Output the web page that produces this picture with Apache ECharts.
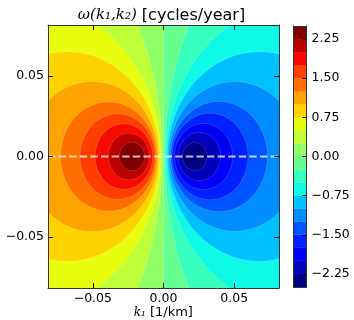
<!DOCTYPE html>
<html><head><meta charset="utf-8">
<script src="https://cdn.jsdelivr.net/npm/echarts@6/dist/echarts.min.js"></script>
<style>html,body{margin:0;padding:0;background:#fff}#c{width:354px;height:320px}</style>
</head><body><div id="c"></div>
<script>
// ---- data ----
const contourLevels = [-2.5,-2.25,-2.0,-1.75,-1.5,-1.25,-1.0,-0.75,-0.5,-0.25,0,0.25,0.5,0.75,1.0,1.25,1.5,1.75,2.0,2.25,2.5];
// positive-omega contours: edges of each closed contour along k2 = 0 (k1 in 1/km)
const posLevels = [0.25,0.5,0.75,1.0,1.25,1.5,1.75,2.0,2.25];
const posLeft   = [-0.41,-0.195,-0.133,-0.097,-0.0728,-0.0590,-0.0484,-0.0390,-0.0311];
const posRight  = [-0.0009,-0.0018,-0.0028,-0.0039,-0.0050,-0.0060,-0.0078,-0.0101,-0.0134];
// negative-omega contours
const negLevels = [-0.25,-0.5,-0.75,-1.0,-1.25,-1.5,-1.75,-2.0,-2.25];
const negLeft   = [0.0009,0.0018,0.0028,0.0039,0.0050,0.0060,0.0078,0.0103,0.0134];
const negRight  = [0.41,0.195,0.133,0.097,0.0735,0.0598,0.0488,0.0403,0.0308];
const zeroContour = 0;
const kRange = [-0.0817, 0.0817];
const xTicks = [-0.05, 0, 0.05];
const yTicks = [-0.05, 0, 0.05];
const cbTicks = [-2.25,-1.5,-0.75,0,0.75,1.5,2.25];
const dashLineK2 = 0;

// ---- jet colormap (matplotlib) ----
function interp(pts, t){
  for (let i=1;i<pts.length;i++){
    if (t <= pts[i][0]) { const a=pts[i-1], b=pts[i]; return a[1] + (b[1]-a[1])*(t-a[0])/(b[0]-a[0]); }
  }
  return pts[pts.length-1][1];
}
function jet(t){
  const idx = Math.min(255, Math.floor(t*256));
  const u = idx/255;
  const r = interp([[0,0],[0.35,0],[0.66,1],[0.89,1],[1,0.5]], u);
  const g = interp([[0,0],[0.125,0],[0.375,1],[0.64,1],[0.91,0],[1,0]], u);
  const b = interp([[0,0.5],[0.11,1],[0.34,1],[0.65,0],[1,0]], u);
  return 'rgb(' + Math.round(r*255) + ',' + Math.round(g*255) + ',' + Math.round(b*255) + ')';
}
const nBands = contourLevels.length - 1;
const bandColors = [];
for (let i=0;i<nBands;i++) bandColors.push(jet(i/(nBands-1)));
function bandIndex(lo){ return contourLevels.indexOf(lo); }

// items: [kind, left, right, bandIndex]
const fieldData = [];
fieldData.push([0, kRange[0], zeroContour, bandIndex(0)]);
fieldData.push([0, zeroContour, kRange[1], bandIndex(-0.25)]);
posLevels.forEach((lv,i)=>fieldData.push([1, posLeft[i], posRight[i], bandIndex(lv)]));
negLevels.forEach((lv,i)=>fieldData.push([1, negLeft[i], negRight[i], bandIndex(lv - 0.25)]));

const cbData = [];
for (let i=0;i<nBands;i++) cbData.push([contourLevels[i], contourLevels[i+1], i]);

function fmt(v){ const s = v.toFixed(2); return s.replace('-', '\u2212'); }

const FONT = 'DejaVu Sans';
const frame = '#333';
function axisCommon(extra){
  return Object.assign({
    type:'value', z:10,
    axisLine:{show:true, onZero:false, lineStyle:{color:frame, width:1}},
    splitLine:{show:false},
    axisTick:{show:true, inside:true, length:5, lineStyle:{color:'#000', width:1}},
    axisLabel:{show:false}
  }, extra);
}
const tickLabel = {show:true, color:'#000', fontFamily:FONT, fontSize:12.5, formatter:fmt};

const chart = echarts.init(document.getElementById('c'), null, {renderer:'canvas'});
chart.setOption({
  animation:false,
  grid:[
    {left:48, top:25, width:231, height:263},
    {left:293.5, top:26, width:13, height:261}
  ],
  xAxis:[
    axisCommon({gridIndex:0, position:'bottom', min:kRange[0], max:kRange[1],
      axisTick:{show:true, inside:true, length:5, customValues:xTicks, lineStyle:{color:'#000'}},
      axisLabel:Object.assign({}, tickLabel, {margin:4, customValues:xTicks})}),
    axisCommon({gridIndex:0, position:'top', min:kRange[0], max:kRange[1],
      axisTick:{show:true, inside:true, length:5, customValues:xTicks, lineStyle:{color:'#000'}}}),
    axisCommon({gridIndex:1, position:'bottom', min:0, max:1, axisTick:{show:false}}),
    axisCommon({gridIndex:1, position:'top', min:0, max:1, axisTick:{show:false}})
  ],
  yAxis:[
    axisCommon({gridIndex:0, position:'left', min:kRange[0], max:kRange[1],
      axisTick:{show:true, inside:true, length:5, customValues:yTicks, lineStyle:{color:'#000'}},
      axisLabel:Object.assign({}, tickLabel, {margin:4, customValues:yTicks})}),
    axisCommon({gridIndex:0, position:'right', min:kRange[0], max:kRange[1],
      axisTick:{show:true, inside:true, length:5, customValues:yTicks, lineStyle:{color:'#000'}}}),
    axisCommon({gridIndex:1, position:'left', min:-2.5, max:2.5, axisTick:{show:false}}),
    axisCommon({gridIndex:1, position:'right', min:-2.5, max:2.5,
      axisTick:{show:true, inside:true, length:4, customValues:cbTicks, lineStyle:{color:'#000'}},
      axisLabel:Object.assign({}, tickLabel, {margin:5, customValues:cbTicks})})
  ],
  series:[
    {
      type:'custom', xAxisIndex:0, yAxisIndex:0, z:1, clip:true, silent:true,
      data: fieldData,
      renderItem: function(params, api){
        const kind = api.value(0), L = api.value(1), R = api.value(2), ci = api.value(3);
        const color = bandColors[ci];
        if (kind === 0){
          const p1 = api.coord([L, kRange[1]]), p2 = api.coord([R, kRange[0]]);
          return {type:'rect', shape:{x:p1[0], y:p1[1], width:p2[0]-p1[0], height:p2[1]-p1[1]}, style:{fill:color}};
        }
        const cx = (L+R)/2, r = (R-L)/2, pts = [];
        for (let n=0;n<720;n++){
          const a = n/720*2*Math.PI;
          pts.push(api.coord([cx + r*Math.cos(a), r*Math.sin(a)]));
        }
        return {type:'polygon', shape:{points:pts}, style:{fill:color, stroke:'rgba(255,255,255,0.28)', lineWidth:0.6}};
      }
    },
    {
      type:'line', xAxisIndex:0, yAxisIndex:0, z:3, silent:true, symbol:'none',
      data:[[kRange[0], dashLineK2],[kRange[1], dashLineK2]],
      lineStyle:{color:'#fff', opacity:0.75, width:2, type:[7.4,3.2]}
    },
    {
      type:'custom', xAxisIndex:2, yAxisIndex:2, z:1, clip:true, silent:true,
      data: cbData,
      renderItem: function(params, api){
        const lo = api.value(0), hi = api.value(1), ci = api.value(2);
        const p1 = api.coord([0, hi]), p2 = api.coord([1, lo]);
        return {type:'rect', shape:{x:p1[0], y:p1[1], width:p2[0]-p1[0], height:p2[1]-p1[1]}, style:{fill:bandColors[ci], stroke:bandColors[ci], lineWidth:0.3}};
      }
    }
  ],
  graphic:[
    {type:'text', x:161.5, y:15.5, z:20, style:{
      text:'{m|\u03c9(k\u2081,k\u2082)}{s| [cycles/year]}',
      align:'center', verticalAlign:'middle',
      rich:{
        m:{fontFamily:'DejaVu Serif', fontStyle:'italic', fontSize:15, fill:'#000'},
        s:{fontFamily:FONT, fontSize:16, fill:'#000'}
      }}},
    {type:'text', x:163.3, y:312.7, z:20, style:{
      text:'{m|k\u2081}{s| [1/km]}',
      align:'center', verticalAlign:'middle',
      rich:{
        m:{fontFamily:'DejaVu Serif', fontStyle:'italic', fontSize:12, fill:'#000'},
        s:{fontFamily:FONT, fontSize:13, fill:'#000'}
      }}}
  ]
});
</script></body></html>
